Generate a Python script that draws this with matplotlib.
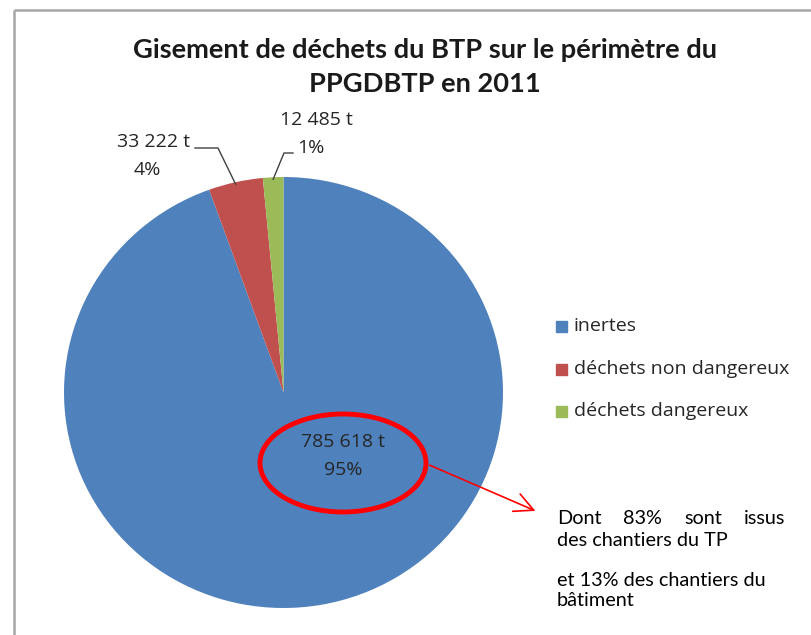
import numpy as np
import matplotlib.pyplot as plt
from matplotlib.patches import Ellipse

categories = ["inertes", "déchets non dangereux", "déchets dangereux"]
tonnes = [785618, 33222, 12485]
value_labels = ["785 618 t", "33 222 t", "12 485 t"]
pct_labels = ["95%", "4%", "1%"]
colors = ["#4F81BD", "#C0504D", "#9BBB59"]

title_lines = ["Gisement de déchets du BTP sur le périmètre du", "PPGDBTP en 2011"]
note_line1 = ["Dont", "83%", "sont", "issus"]
note_rest = ["des chantiers du TP", "", "et 13% des chantiers du", "bâtiment"]

W, H = 812, 635
fig = plt.figure(figsize=(W / 100, H / 100), dpi=100)

# pie axes, in pixel box
px_l, px_r, px_t, px_b = 64, 503, 177, 608
ax = fig.add_axes([px_l / W, (H - px_b) / H, (px_r - px_l) / W, (px_b - px_t) / H])
wedges, _ = ax.pie(tonnes, colors=colors, startangle=90, counterclock=False,
                   radius=1, wedgeprops=dict(linewidth=0))
ax.set_xlim(-1, 1)
ax.set_ylim(-1, 1)
ax.set_aspect("auto")
ax.axis("off")

# overlay in pixel coords
ov = fig.add_axes([0, 0, 1, 1], zorder=5)
ov.set_xlim(0, W)
ov.set_ylim(H, 0)
ov.axis("off")

# chart frame (top and left only visible)
ov.plot([14, W], [10, 10], color="#A6A6A6", lw=1.8, solid_capstyle="butt")
ov.plot([14, 14], [10, H], color="#A6A6A6", lw=1.8, solid_capstyle="butt")

for ty, line in zip([50, 84], title_lines):
    ov.text(425, ty, line, ha="center", va="center",
            fontsize=19.6, fontweight="bold", family="Lato", color="#1a1a1a")

cx, cy = (px_l + px_r) / 2, (px_t + px_b) / 2
rx, ry = (px_r - px_l) / 2, (px_b - px_t) / 2


def edge_point(w):
    ang = np.deg2rad((w.theta1 + w.theta2) / 2)
    return cx + rx * np.cos(ang), cy - ry * np.sin(ang)


lab_kw = dict(fontsize=14, family="Open Sans", color="#262626")

# inertes label inside
ov.text(343, 442, value_labels[0], ha="center", va="center", **lab_kw)
ov.text(343, 470, pct_labels[0], ha="center", va="center", **lab_kw)

# non dangereux
x0, y0 = edge_point(wedges[1])
ov.plot([x0, 218, 195], [y0 + 2, 148, 148], color="#404040", lw=1)
ov.text(190, 142, value_labels[1], ha="right", va="center", **lab_kw)
ov.text(147, 170, pct_labels[1], ha="center", va="center", **lab_kw)

# dangereux
x0, y0 = edge_point(wedges[2])
ov.plot([x0, 284, 293], [y0 + 2, 153, 153], color="#404040", lw=1)
ov.text(316, 120, value_labels[2], ha="center", va="center", **lab_kw)
ov.text(297, 148, pct_labels[2], ha="left", va="center", **lab_kw)

# legend
for i, (name, c) in enumerate(zip(categories, colors)):
    y = [326, 369, 411][i]
    ov.add_patch(plt.Rectangle((556, y - 5), 11, 11, color=c))
    ov.text(574, y, name, ha="left", va="center", **lab_kw)

# red highlight ellipse and arrow
ov.add_patch(Ellipse((343, 463), 166, 98, fill=False, edgecolor="#FF0000", lw=3.5))
ov.annotate("", xy=(538, 512), xytext=(427, 464),
            arrowprops=dict(arrowstyle="->", color="#FF0000", lw=1.2, mutation_scale=34))

# justified note
note_kw = dict(fontsize=14.3, family="Lato", color="black", va="center")
renderer = fig.canvas.get_renderer()
x_left, x_right = 557, 785
words = [ov.text(0, 518, w, ha="left", **note_kw) for w in note_line1]
widths = [t.get_window_extent(renderer).width for t in words]
gap = (x_right - x_left - sum(widths)) / (len(words) - 1)
x = x_left
for t, wd in zip(words, widths):
    t.set_x(x)
    x += wd + gap
for k, line in enumerate(note_rest):
    ov.text(557, [540, 560, 580, 601][k], line, ha="left", **note_kw)

fig.savefig("out.png", dpi=100)
